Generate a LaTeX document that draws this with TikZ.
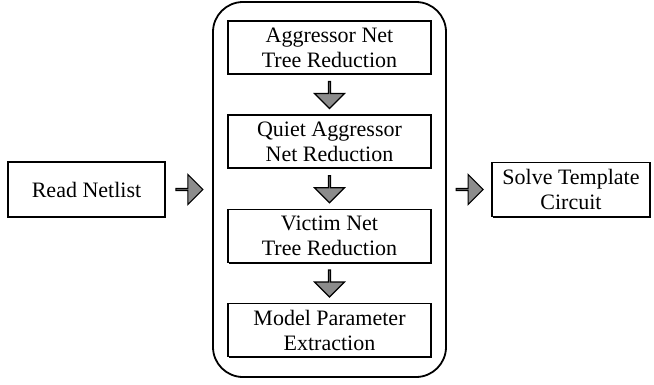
\documentclass[tikz,border=0pt]{standalone}
\usepackage{fontspec}
\setmainfont{Liberation Serif}
\usepackage{tikz}
\usetikzlibrary{calc, shapes.arrows, shadows}
\definecolor{arrowGray}{RGB}{140,140,140}

\begin{document}
\begin{tikzpicture}[x=1pt, y=-1pt,
    stepbox/.style={rectangle, draw, line width=1.3pt, fill=white, align=center, inner sep=0pt,
        font=\fontsize{22}{25}\selectfont,
        drop shadow={fill=black, opacity=1, shadow xshift=1.4pt, shadow yshift=-1.4pt}},
    outer/.style={rectangle, draw, line width=1.8pt, rounded corners=30pt, minimum width=233pt, minimum height=375pt},
    fatarrow/.style={single arrow, draw, line width=1.1pt, fill=arrowGray, inner sep=0pt,
        minimum height=27pt, minimum width=30pt, single arrow head extend=7.5pt, single arrow head indent=0pt}
]
\useasboundingbox (0,0) rectangle (654,384);
\node[outer] (flow) at (329.5,189.5) {};
\node[stepbox, minimum width=157pt, minimum height=55pt] (read) at (86.5,189.5) {Read Netlist};
\node[stepbox, minimum width=203pt, minimum height=53pt] (aggr) at (329.5,47.5) {Aggressor Net\\ Tree Reduction};
\node[stepbox, minimum width=203pt, minimum height=53pt] (quiet) at (329.5,141.5) {Quiet Aggressor\\ Net Reduction};
\node[stepbox, minimum width=203pt, minimum height=53pt] (victim) at (329.5,236) {Victim Net\\ Tree Reduction};
\node[stepbox, minimum width=203pt, minimum height=53pt] (model) at (329.5,330) {Model Parameter\\ Extraction};
\node[stepbox, minimum width=158pt, minimum height=54pt] (solve) at (571,189.5) {Solve Template\\ Circuit};
\node[fatarrow] (inarrow) at ($(read.east)!0.5!(flow.west)$) {};
\node[fatarrow] (outarrow) at ($(flow.east)!0.5!(solve.west)$) {};
\node[fatarrow, rotate=-90] (down1) at ($(aggr.south)!0.5!(quiet.north)$) {};
\node[fatarrow, rotate=-90] (down2) at ($(quiet.south)!0.5!(victim.north)$) {};
\node[fatarrow, rotate=-90] (down3) at ($(victim.south)!0.5!(model.north)$) {};
\end{tikzpicture}
\end{document}
